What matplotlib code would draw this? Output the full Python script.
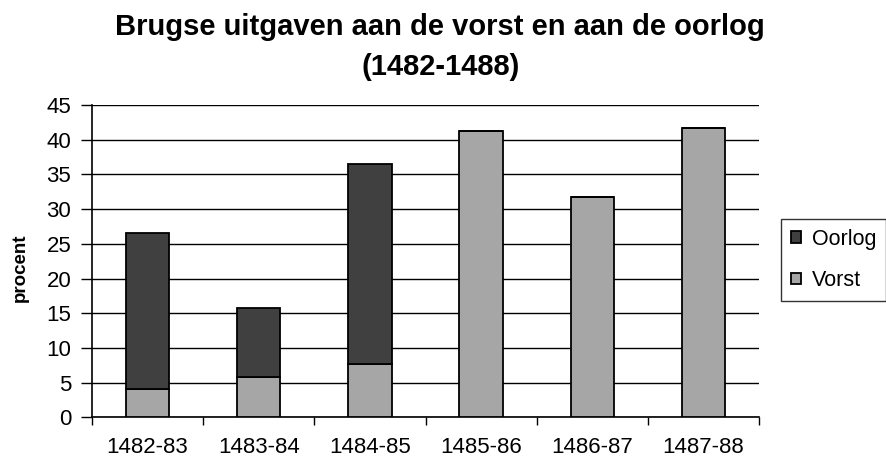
import matplotlib.pyplot as plt
import numpy as np

plt.rcParams['font.family'] = ['Liberation Sans', 'DejaVu Sans']

# --- Données ---
jaren = ["1482-83", "1483-84", "1484-85", "1485-86", "1486-87", "1487-88"]
vorst = [4.1, 5.8, 7.7, 41.2, 31.8, 41.7]
oorlog = [22.4, 9.9, 28.8, 0, 0, 0]

x = np.arange(len(jaren))

fig = plt.figure(figsize=(8.86, 4.61), dpi=100)
ax = fig.add_axes([0.1038, 0.0948, 0.7529, 0.6774])

b_vorst = ax.bar(x, vorst, width=0.39, color="#a6a6a6", edgecolor="black",
                 linewidth=1.3, zorder=3, label="Vorst")
b_oorlog = ax.bar(x, oorlog, width=0.39, bottom=vorst, color="#404040",
                  edgecolor="black", linewidth=1.3, zorder=3, label="Oorlog")

ax.set_xlim(-0.5, len(jaren) - 0.5)
ax.set_ylim(0, 45)
ax.set_yticks(range(0, 46, 5))
ax.yaxis.grid(True, color="black", linewidth=1)
ax.set_axisbelow(True)

ax.set_xticks(x)
ax.set_xticklabels(jaren)
ax.set_xticks(np.arange(-0.5, len(jaren), 1), minor=True)
ax.tick_params(axis="x", which="major", length=0, labelsize=16, pad=14)
ax.tick_params(axis="x", which="minor", length=6, width=1)
ax.tick_params(axis="y", length=8, width=1, labelsize=16, pad=7)

for s in ["top", "right"]:
    ax.spines[s].set_visible(False)
ax.spines["left"].set_linewidth(1.2)
ax.spines["bottom"].set_linewidth(1.2)

ax.set_ylabel("procent", fontweight="bold", fontsize=13.5)
ax.yaxis.set_label_coords(-0.095, 0.48)

fig.text(0.497, 0.972, "Brugse uitgaven aan de vorst en aan de oorlog\n(1482-1488)",
         ha="center", va="top", fontsize=21, fontweight="bold",
         linespacing=1.55)

leg = fig.legend(handles=[b_oorlog, b_vorst], labels=["Oorlog", "Vorst"],
                 loc="center left", bbox_to_anchor=(0.8815, 0.436),
                 fontsize=15.5, frameon=True, fancybox=False, edgecolor="black",
                 handlelength=0.47, handleheight=0.47, handletextpad=0.5,
                 borderpad=0.45, labelspacing=0.95, borderaxespad=0)
leg.get_frame().set_linewidth(1)

fig.savefig("out.png", dpi=100)
